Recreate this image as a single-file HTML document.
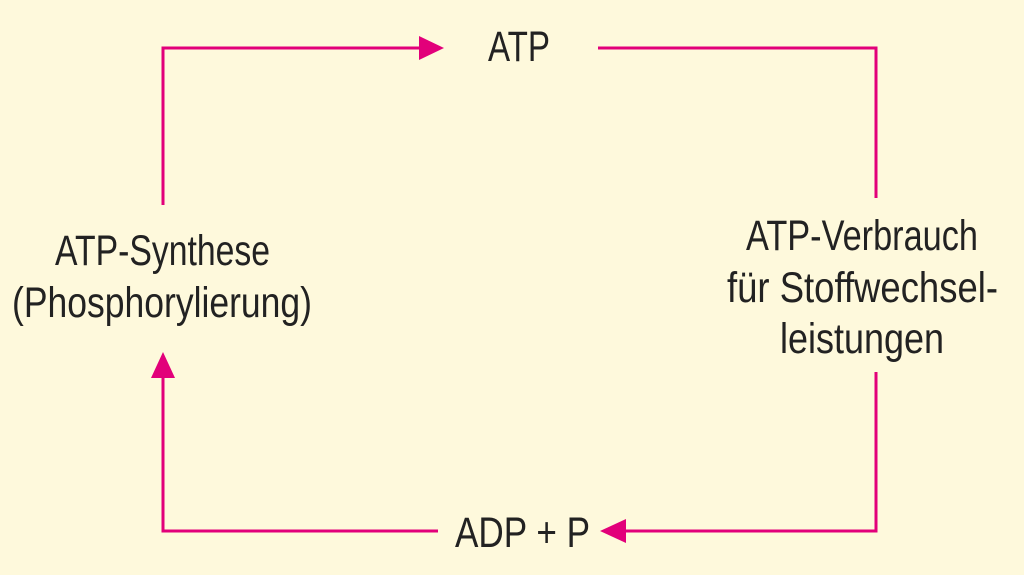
<!DOCTYPE html>
<html><head><meta charset="utf-8"><style>
html,body{margin:0;padding:0;background:#fef9dc;}
svg{display:block}
text{font-family:"Liberation Sans Narrow","Liberation Sans",sans-serif;font-size:43px;fill:#222;}
</style></head><body>
<svg width="1024" height="575" viewBox="0 0 1024 575">
<rect width="1024" height="575" fill="#fef9dc"/>
<g stroke="#e2007a" stroke-width="3" fill="none">
<polyline points="163,205 163,48 422,48"/>
<polyline points="598,48 876,48 876,198"/>
<polyline points="876,372 876,531 624,531"/>
<polyline points="438,531 163,531 163,376"/>
</g>
<g fill="#e2007a">
<polygon points="419,36 444,48 419,60"/>
<polygon points="626,519 600,531 626,543"/>
<polygon points="151,378 163,352 175,378"/>
</g>
<text x="488" y="61" textLength="62" lengthAdjust="spacingAndGlyphs">ATP</text>
<text x="55" y="265" textLength="215" lengthAdjust="spacingAndGlyphs">ATP-Synthese</text>
<text x="12" y="317" textLength="300" lengthAdjust="spacingAndGlyphs">(Phosphorylierung)</text>
<text x="746" y="250" textLength="232" lengthAdjust="spacingAndGlyphs">ATP-Verbrauch</text>
<text x="727" y="302" textLength="271" lengthAdjust="spacingAndGlyphs">für Stoffwechsel-</text>
<text x="780" y="353" textLength="164" lengthAdjust="spacingAndGlyphs">leistungen</text>
<text x="455" y="547" textLength="135" lengthAdjust="spacingAndGlyphs">ADP + P</text>
</svg>
</body></html>
